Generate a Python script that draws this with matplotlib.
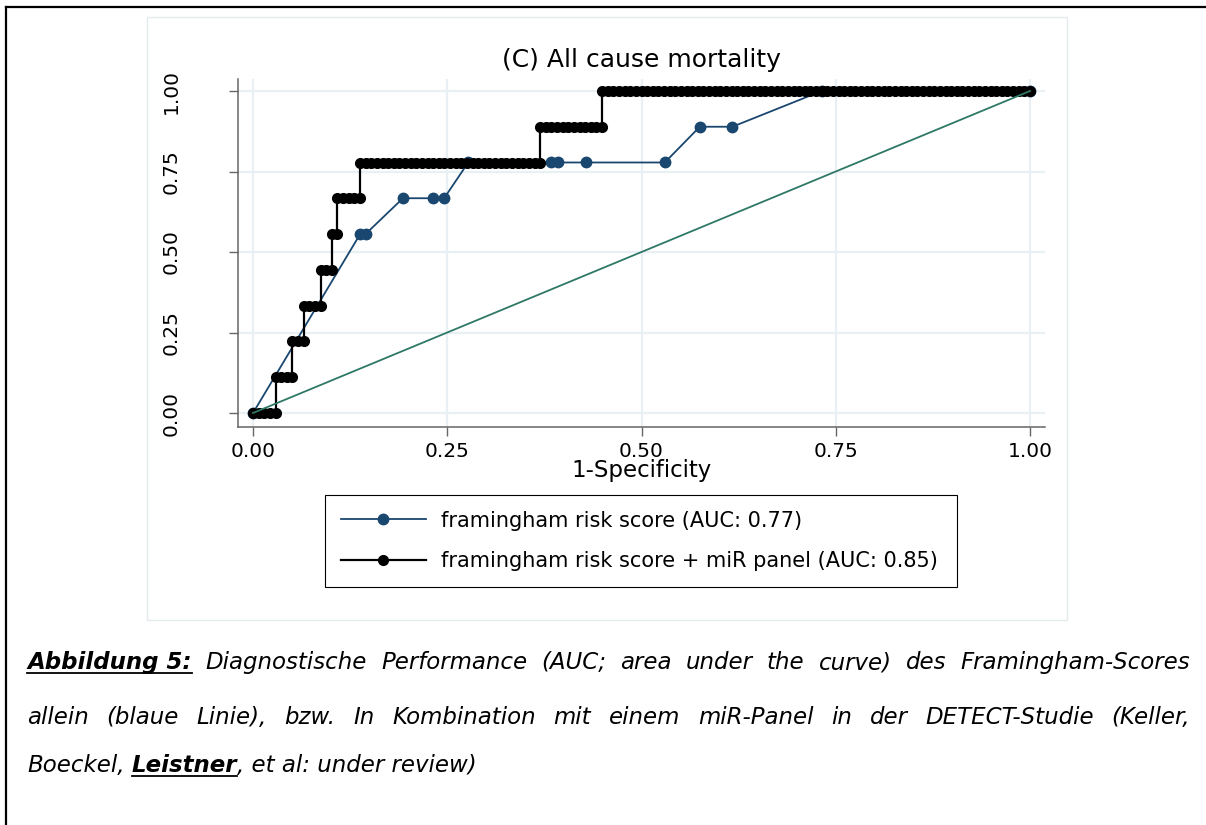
import matplotlib
matplotlib.use('Agg')
import matplotlib.pyplot as plt
from matplotlib.lines import Line2D
from matplotlib.patches import Rectangle

plt.rcParams['font.family'] = ['DejaVu Sans']

# Achsen
tick_vals = [0.0, 0.25, 0.5, 0.75, 1.0]
tick_labels = ['0.00', '0.25', '0.50', '0.75', '1.00']

# Framingham allein: Punkte der ROC-Kurve (1-Spezifitaet, Sensitivitaet)
frs_fpr = [0.0, 0.138, 0.145, 0.193, 0.232, 0.246, 0.277, 0.384, 0.392, 0.428,
           0.530, 0.575, 0.617, 0.732, 1.0]
frs_tpr = [0.0, 0.556, 0.556, 0.667, 0.667, 0.667, 0.778, 0.778, 0.778, 0.778,
           0.778, 0.889, 0.889, 1.0, 1.0]

# Framingham + miR-Panel: 9 Ereignisse, 138 Kontrollen
n_pos = 9
n_neg = 138
mir_tp = [0, 1, 2, 3, 4, 5, 6, 7, 8, 9]
mir_fp_from = [0, 4, 7, 9, 12, 14, 15, 19, 51, 62]
mir_fp_to = [4, 7, 9, 12, 14, 15, 19, 51, 62, 138]

legend_labels = ['framingham risk score (AUC: 0.77)',
                 'framingham risk score + miR panel (AUC: 0.85)']

# jede Kontrolle verschiebt die 1-Spezifitaet um 1/n_neg
mir_x, mir_y = [], []
for tp, a, b in zip(mir_tp, mir_fp_from, mir_fp_to):
    for fp in range(a, b + 1):
        mir_x.append(fp / n_neg)
        mir_y.append(tp / n_pos)

W, H = 1206, 825
fig = plt.figure(figsize=(W / 100, H / 100), dpi=100)
fig.patch.set_facecolor('white')


def fx(px):
    return px / W


def fy(py):
    return 1 - py / H


# Rahmen der Seite (oben + links)
fig.add_artist(Line2D([fx(6), 1], [fy(7), fy(7)], color='black', lw=1.6))
fig.add_artist(Line2D([fx(6), fx(6)], [fy(7), 0], color='black', lw=1.6))

# heller Rahmen der Stata-Grafik
fig.add_artist(Rectangle((fx(147), fy(620)), fx(1067) - fx(147), fy(17) - fy(620),
                         transform=fig.transFigure, fill=False,
                         edgecolor='#e4ebef', lw=1))

ax = fig.add_axes([fx(238), fy(427), fx(1045) - fx(238), fy(79) - fy(427)])

line_frs, = ax.plot(frs_fpr, frs_tpr, color='#1a476f', lw=1.3, marker='o',
                    ms=7.5, zorder=3)
line_mir, = ax.plot(mir_x, mir_y, color='black', lw=1.6, marker='o',
                    ms=7, zorder=4)
ax.plot([0, 1], [0, 1], color='#2f7866', lw=1.3, zorder=5)

ax.set_xlim(-15 / 777, 1 + 15 / 777)
ax.set_ylim(-14 / 322, 1 + 12 / 322)
ax.set_xticks(tick_vals)
ax.set_xticklabels(tick_labels)
ax.set_yticks(tick_vals)
ax.set_yticklabels(tick_labels, rotation=90, va='center')

ax.grid(True, color='#e9f0f3', lw=1.6, zorder=0)
ax.set_axisbelow(True)
for s in ['top', 'right']:
    ax.spines[s].set_visible(False)
for s in ['left', 'bottom']:
    ax.spines[s].set_color('#666666')
    ax.spines[s].set_linewidth(1.1)
ax.tick_params(axis='both', length=6.5, width=1, color='#666666',
               labelsize=14.5, labelcolor='black')
ax.tick_params(axis='x', pad=4.5)
ax.tick_params(axis='y', pad=35)

ax.set_title('(C) All cause mortality', fontsize=18, pad=8.5)
ax.set_xlabel('1-Specificity', fontsize=16.5)
ax.xaxis.set_label_coords(0.5, -(459 - 427) / 348)

leg = ax.legend([line_frs, line_mir], legend_labels, loc='upper left',
                bbox_to_anchor=(fx(325), fy(592), fx(957) - fx(325), fy(495) - fy(592)),
                bbox_transform=fig.transFigure, mode='expand', borderaxespad=0,
                fontsize=15, handlelength=4.1, handletextpad=0.7,
                labelspacing=1.0, borderpad=0.75, numpoints=1,
                fancybox=False, edgecolor='black', framealpha=1)
leg.get_frame().set_linewidth(0.8)

# Bildunterschrift, Blocksatz
renderer = fig.canvas.get_renderer()
cap_size = 16.5


def put(s, x, y, bold=False):
    return fig.text(fx(x), fy(y), s, fontsize=cap_size, style='italic',
                    weight='bold' if bold else 'normal', va='baseline',
                    ha='left')


def width(t):
    return t.get_window_extent(renderer).width


def underline(t, x, y):
    w = width(t)
    fig.add_artist(Line2D([fx(x), fx(x + w)], [fy(y + 3.5), fy(y + 3.5)],
                          color='black', lw=1.3))


def justify(words, y, x0, x1):
    objs = [put(s, x0, y, b) for s, b, u in words]
    ws = [width(o) for o in objs]
    gap = (x1 - x0 - sum(ws)) / (len(words) - 1)
    x = x0
    for o, w, (s, b, u) in zip(objs, ws, words):
        o.set_x(fx(x))
        if u:
            underline(o, x, y)
        x += w + gap


line1 = [('Abbildung 5:', True, True)] + [(w, False, False) for w in
         'Diagnostische Performance (AUC; area under the curve) des Framingham-Scores'.split()]
line2 = [(w, False, False) for w in
         'allein (blaue Linie), bzw. In Kombination mit einem miR-Panel in der DETECT-Studie (Keller,'.split()]
justify(line1, 669, 27, 1190)
justify(line2, 724, 27, 1190)

y3 = 772
t_a = put('Boeckel,', 27, y3)
t_sp1 = put('a a', 0, y3)
t_sp2 = put('aa', 0, y3)
space = width(t_sp1) - width(t_sp2)
t_sp1.remove()
t_sp2.remove()
x = 27 + width(t_a) + space
t_b = put('Leistner', x, y3, bold=True)
underline(t_b, x, y3)
x += width(t_b)
put(', et al: under review)', x, y3)

fig.savefig('out.png', dpi=100, facecolor='white')
